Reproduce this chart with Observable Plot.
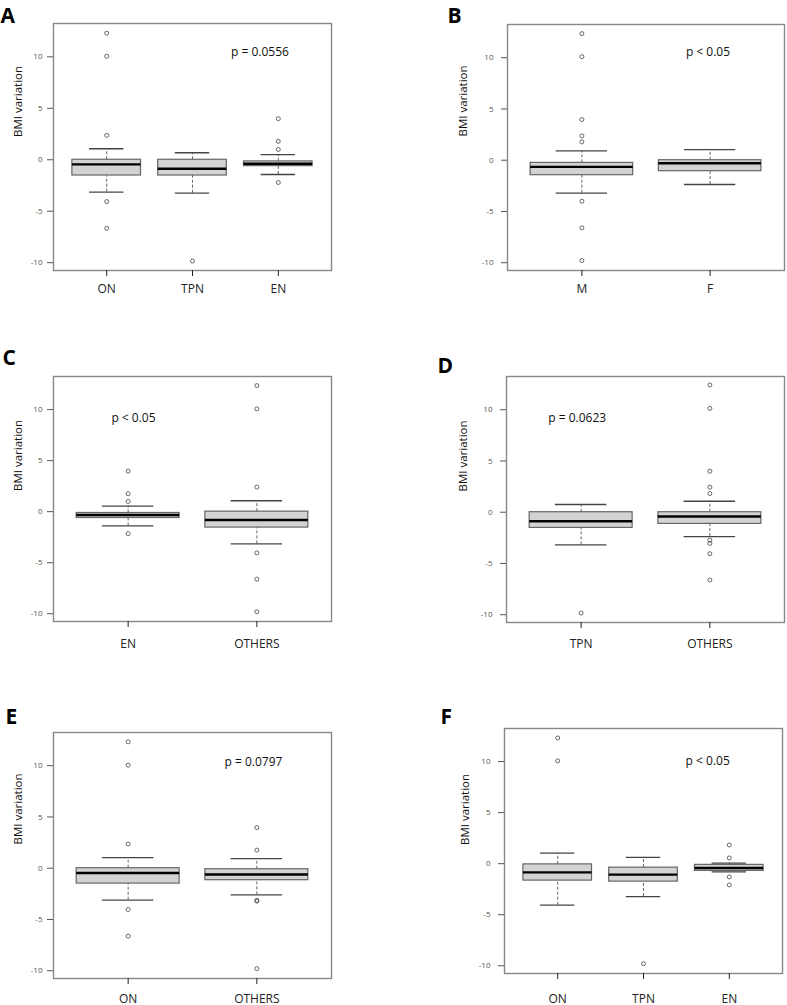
<!DOCTYPE html>
<html>
<head>
<meta charset="utf-8">
<script src="https://cdn.jsdelivr.net/npm/d3@7"></script>
<script src="https://cdn.jsdelivr.net/npm/@observablehq/plot@0.6"></script>
<style>
  body { margin: 0; background: #fff; }
  #fig { position: relative; width: 787px; height: 1005px; background: #fff; }
  .cell { position: absolute; }
</style>
</head>
<body>
<div id="fig"></div>
<script>
// ---------- DATA ----------
const yTicks = [-10, -5, 0, 5, 10];
const yLabel = "BMI variation";

// Panel A
const groupsA = ["ON", "TPN", "EN"];
const lowA  = [-3.15, -3.25, -1.43];
const q1A   = [-1.53, -1.53, -0.62];
const medA  = [-0.45, -0.88, -0.39];
const q3A   = [0.00, 0.00, -0.16];
const highA = [1.07, 0.68, 0.49];
const outA  = [[12.3, 10.06, 2.37, -4.06, -6.66], [-9.84], [3.99, 1.79, 1.0, -2.21]];
const pA = "p = 0.0556";

// Panel B
const groupsB = ["M", "F"];
const lowB  = [-3.22, -2.37];
const q1B   = [-1.46, -1.07];
const medB  = [-0.65, -0.29];
const q3B   = [-0.26, 0.00];
const highB = [0.91, 1.04];
const outB  = [[12.35, 10.1, 3.97, 2.37, 1.79, -4.0, -6.6, -9.79], []];
const pB = "p < 0.05";

// Panel C
const groupsC = ["EN", "OTHERS"];
const lowC  = [-1.4, -3.16];
const q1C   = [-0.62, -1.56];
const medC  = [-0.33, -0.81];
const q3C   = [-0.13, 0.00];
const highC = [0.55, 1.07];
const outC  = [[3.97, 1.76, 1.0, -2.15], [12.35, 10.07, 2.41, -4.04, -6.61, -9.8]];
const pC = "p < 0.05";

// Panel D
const groupsD = ["TPN", "OTHERS"];
const lowD  = [-3.19, -2.38];
const q1D   = [-1.53, -1.14];
const medD  = [-0.88, -0.42];
const q3D   = [0.00, 0.00];
const highD = [0.75, 1.07];
const outD  = [[-9.84], [12.41, 10.13, 4.0, 2.44, 1.82, -2.72, -3.05, -4.05, -6.61]];
const pD = "p = 0.0623";

// Panel E
const groupsE = ["ON", "OTHERS"];
const lowE  = [-3.12, -2.6];
const q1E   = [-1.5, -1.17];
const medE  = [-0.46, -0.62];
const q3E   = [0.00, -0.1];
const highE = [1.04, 0.94];
const outE  = [[12.33, 10.05, 2.37, -4.03, -6.63], [3.97, 1.76, -3.13, -3.22, -9.8]];
const pE = "p = 0.0797";

// Panel F
const groupsF = ["ON", "TPN", "EN"];
const lowF  = [-4.07, -3.22, -0.81];
const q1F   = [-1.66, -1.76, -0.71];
const medF  = [-0.85, -1.07, -0.42];
const q3F   = [-0.07, -0.39, -0.12];
const highF = [1.04, 0.62, 0.05];
const outF  = [[12.31, 10.07], [-9.8], [1.83, 0.56, -1.3, -2.08]];
const pF = "p < 0.05";

// ---------- LAYOUT (page pixels) ----------
// cell: [left, top, width, height]; frame: [left, top, right, bottom]
const layout = {
  A: {cell: [0, 0, 390, 330],   frame: [53, 23, 331, 270],  xPad: 8,  yPad: 5, lab: [-35, -10], p: [206.5, 28.5], letter: [-53, -1]},
  B: {cell: [390, 0, 397, 330], frame: [507, 24, 784, 270], xPad: 8,  yPad: 8, lab: [-44, -11], p: [200.5, 27.7], letter: [-60, -2]},
  C: {cell: [0, 330, 390, 330], frame: [53, 376, 331, 621], xPad: 12, yPad: 5, lab: [-35, -8],  p: [80, 41.5],    letter: [-51, -12]},
  D: {cell: [390, 330, 397, 330], frame: [506, 376, 784, 622], xPad: 11, yPad: 8, lab: [-43, -8], p: [70.7, 41.5], letter: [-69, -4]},
  E: {cell: [0, 660, 390, 345], frame: [53, 732, 331, 978], xPad: 10, yPad: 5, lab: [-35, -11], p: [200, 29.4],    letter: [-48, -9]},
  F: {cell: [390, 660, 397, 345], frame: [504, 728, 782, 973], xPad: 15, yPad: 8, lab: [-39, -6], p: [203.2, 32.7], letter: [-64, -5]}
};

const panels = [
  {id: "A", groups: groupsA, low: lowA, q1: q1A, med: medA, q3: q3A, high: highA, out: outA, p: pA},
  {id: "B", groups: groupsB, low: lowB, q1: q1B, med: medB, q3: q3B, high: highB, out: outB, p: pB},
  {id: "C", groups: groupsC, low: lowC, q1: q1C, med: medC, q3: q3C, high: highC, out: outC, p: pC},
  {id: "D", groups: groupsD, low: lowD, q1: q1D, med: medD, q3: q3D, high: highD, out: outD, p: pD},
  {id: "E", groups: groupsE, low: lowE, q1: q1E, med: medE, q3: q3E, high: highE, out: outE, p: pE},
  {id: "F", groups: groupsF, low: lowF, q1: q1F, med: medF, q3: q3F, high: highF, out: outF, p: pF}
];

const FONT = '"Open Sans", "DejaVu Sans", sans-serif';
const BOX_HALF = 0.4, CAP_HALF = 0.2;

function makePanel(d) {
  const L = layout[d.id];
  const n = d.groups.length;
  const rows = d.groups.map((g, k) => ({i: k + 1, lo: d.low[k], q1: d.q1[k], med: d.med[k], q3: d.q3[k], hi: d.high[k]}));
  const outs = d.out.flatMap((arr, k) => arr.map(v => ({i: k + 1, v})));
  const [cl, ct, cw, ch] = L.cell;
  const [fl, ft, fr, fb] = L.frame;
  return Plot.plot({
    width: cw, height: ch,
    marginLeft: fl - cl, marginTop: ft - ct,
    marginRight: cl + cw - fr, marginBottom: ct + ch - fb,
    style: {fontFamily: FONT, background: "white", overflow: "visible"},
    x: {type: "linear", domain: [0.5 - 0.04 * n, n + 0.5 + 0.04 * n]},
    y: {domain: [-10.76, 13.24]},
    marks: [
      // whiskers (dashed)
      Plot.ruleX(rows, {x: "i", y1: "q3", y2: "hi", stroke: "#666", strokeWidth: 1, strokeDasharray: "3,2"}),
      Plot.ruleX(rows, {x: "i", y1: "lo", y2: "q1", stroke: "#666", strokeWidth: 1, strokeDasharray: "3,2"}),
      // staples
      Plot.ruleY(rows, {y: "hi", x1: r => r.i - CAP_HALF, x2: r => r.i + CAP_HALF, stroke: "#444", strokeWidth: 1.3}),
      Plot.ruleY(rows, {y: "lo", x1: r => r.i - CAP_HALF, x2: r => r.i + CAP_HALF, stroke: "#444", strokeWidth: 1.3}),
      // boxes
      Plot.rect(rows, {x1: r => r.i - BOX_HALF, x2: r => r.i + BOX_HALF, y1: "q1", y2: "q3", fill: "#d3d3d3", stroke: "#666", strokeWidth: 1.2}),
      // medians
      Plot.ruleY(rows, {y: "med", x1: r => r.i - BOX_HALF, x2: r => r.i + BOX_HALF, stroke: "#000", strokeWidth: 2.4}),
      // outliers
      Plot.dot(outs, {x: "i", y: "v", r: 2, stroke: "#444", strokeWidth: 0.8, fill: "none"}),
      // frame
      Plot.frame({stroke: "#888", strokeWidth: 1.4}),
      // axes
      Plot.axisY({ticks: yTicks, tickFormat: v => String(v), tickSize: 6, tickPadding: L.yPad, fontSize: 8, color: "#555", label: null}),
      Plot.axisX({ticks: d3.range(1, n + 1), tickFormat: i => d.groups[i - 1], tickSize: 6, tickPadding: L.xPad, fontSize: 12, color: "#222", label: null}),
      // y label
      Plot.text([yLabel], {frameAnchor: "left", rotate: -90, dx: L.lab[0], dy: L.lab[1], fontSize: 11.5, fill: "#111"}),
      // p value
      Plot.text([d.p], {frameAnchor: "top-left", dx: L.p[0], dy: L.p[1], fontSize: 12, fill: "#111", textAnchor: "middle", lineAnchor: "middle"}),
      // panel letter
      Plot.text([d.id], {frameAnchor: "top-left", dx: L.letter[0], dy: L.letter[1], fontSize: 21, fontWeight: 700, fill: "#000", textAnchor: "start", lineAnchor: "bottom"})
    ]
  });
}

const fig = document.getElementById("fig");
for (const d of panels) {
  const L = layout[d.id];
  const div = document.createElement("div");
  div.className = "cell";
  div.style.left = L.cell[0] + "px";
  div.style.top = L.cell[1] + "px";
  div.appendChild(makePanel(d));
  fig.appendChild(div);
}
</script>
</body>
</html>
